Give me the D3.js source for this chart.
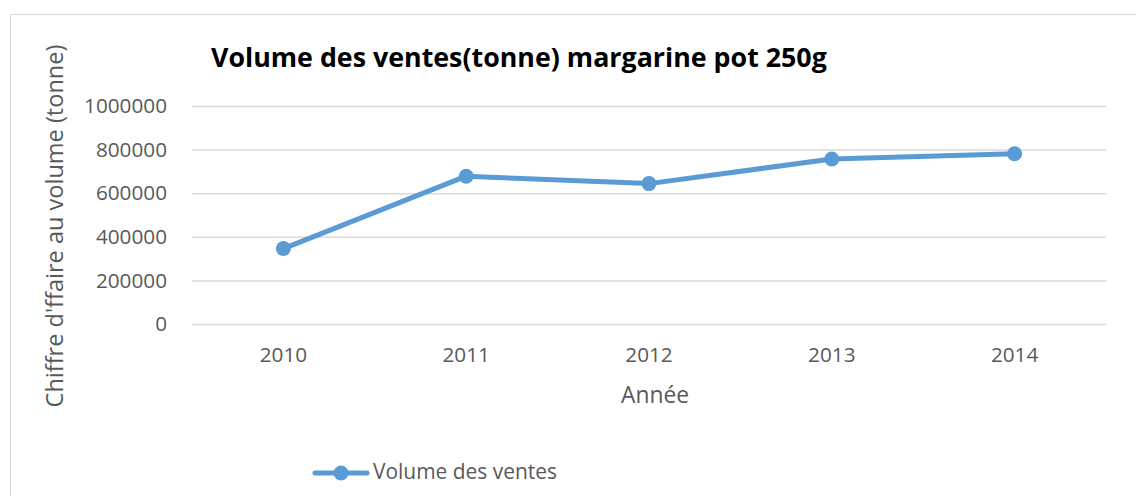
<!DOCTYPE html>
<html>
<head>
<meta charset="utf-8">
<script src="https://cdn.jsdelivr.net/npm/d3@7"></script>
<style>
  body { margin: 0; background: #fff; }
  text { font-family: "Open Sans", Lato, sans-serif; }
</style>
</head>
<body>
<div id="chart"></div>
<script>
// data
const years = ["2010", "2011", "2012", "2013", "2014"];
const ventes = [346000, 678000, 644000, 757000, 781000];
const yTicks = [0, 200000, 400000, 600000, 800000, 1000000];

const W = 1136, H = 496;
var margin = {top: 106, left: 192},
    width = 1106 - margin.left,
    height = 324 - margin.top;

var svg = d3.select("#chart")
    .append("svg")
    .attr("width", W)
    .attr("height", H);

// shrink/grow a text so it takes the width seen in the picture (Calibri is not here)
function fit(sel, target) {
    let fs = parseFloat(sel.style("font-size"));
    let w = sel.node().getComputedTextLength();
    sel.style("font-size", (fs * target / w).toFixed(2) + "px");
}

// chart frame (runs off right and bottom)
svg.append("rect")
    .attr("x", 10.5).attr("y", 14.5)
    .attr("width", W + 20).attr("height", H + 20)
    .attr("fill", "none")
    .attr("stroke", "#d9d9d9");

var g = svg.append("g")
    .attr("transform", `translate(${margin.left}, ${margin.top})`);

var x = d3.scaleBand().domain(years).range([0, width]);
var y = d3.scaleLinear().domain([0, 1000000]).range([height, 0]);

// gridlines + y labels
var ya = g.append("g")
    .call(d3.axisLeft(y).tickValues(yTicks).tickSize(-width).tickPadding(25).tickFormat(d3.format("d")))
    .call(a => a.select(".domain").remove())
    .call(a => a.selectAll("line").attr("stroke", "#d9d9d9").attr("stroke-width", 1.5))
    .call(a => a.selectAll("text").attr("fill", "#595959").style("font-size", "16px"));
var big = ya.selectAll("text").filter(d => d === 1000000);
fit(big, 83);
ya.selectAll("text").style("font-size", big.style("font-size"));

// x labels
var xa = g.append("g")
    .attr("transform", `translate(0, ${height})`)
    .call(d3.axisBottom(x).tickSize(0).tickPadding(23))
    .call(a => a.select(".domain").remove())
    .call(a => a.selectAll("text").attr("fill", "#595959").style("font-size", big.style("font-size")));

var line = d3.line()
    .x((d, i) => x(years[i]) + x.bandwidth() / 2)
    .y(d => y(d));

g.append("path")
    .datum(ventes)
    .attr("fill", "none")
    .attr("stroke", "#5b9bd5")
    .attr("stroke-width", 5)
    .attr("stroke-linejoin", "round")
    .attr("d", line);

g.selectAll("circle")
    .data(ventes)
    .enter()
    .append("circle")
    .attr("cx", (d, i) => x(years[i]) + x.bandwidth() / 2)
    .attr("cy", d => y(d))
    .attr("r", 7.5)
    .attr("fill", "#5b9bd5");

// title
var title = svg.append("text")
    .attr("x", 211).attr("y", 67)
    .style("font-size", "24px")
    .style("font-weight", "bold")
    .attr("fill", "#000")
    .text("Volume des ventes(tonne) margarine pot 250g");
fit(title, 616);

// axis titles
var yt = svg.append("text")
    .attr("transform", "translate(63, 226) rotate(-90)")
    .attr("text-anchor", "middle")
    .style("font-size", "20px")
    .attr("fill", "#595959")
    .text("Chiffre d'ffaire au volume (tonne)");
fit(yt, 363);

var xt = svg.append("text")
    .attr("x", 655).attr("y", 403)
    .attr("text-anchor", "middle")
    .style("font-size", "20px")
    .attr("fill", "#595959")
    .text("Année");
fit(xt, 68);

// legend
var leg = svg.append("g").attr("transform", "translate(313, 473)");
leg.append("line")
    .attr("x1", 2).attr("x2", 54)
    .attr("stroke", "#5b9bd5").attr("stroke-width", 5).attr("stroke-linecap", "round");
leg.append("circle").attr("cx", 28).attr("r", 7.5).attr("fill", "#5b9bd5");
var lt = leg.append("text")
    .attr("x", 60).attr("y", 6)
    .style("font-size", "18px")
    .attr("fill", "#595959")
    .text("Volume des ventes");
fit(lt, 184);
</script>
</body>
</html>
